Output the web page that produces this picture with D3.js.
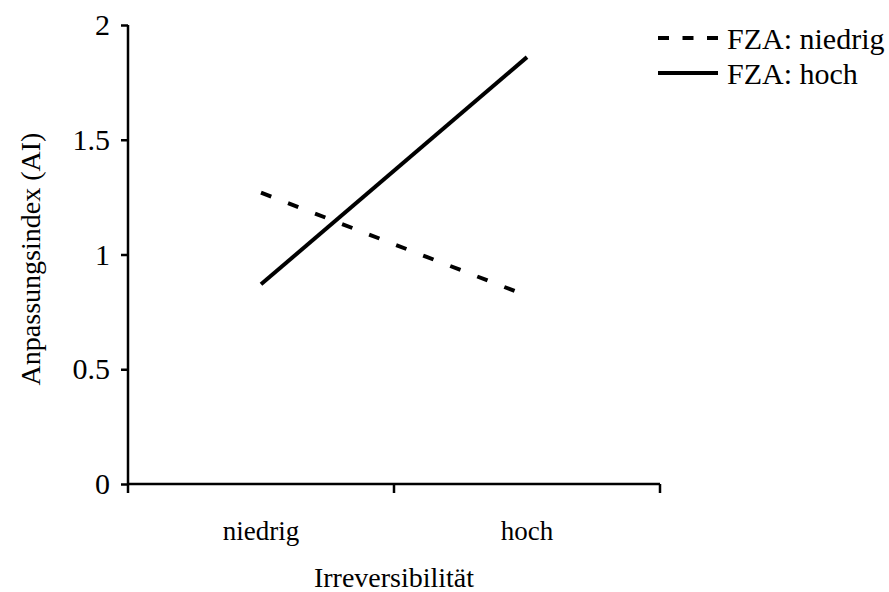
<!DOCTYPE html>
<html>
<head>
<meta charset="utf-8">
<script src="https://cdn.jsdelivr.net/npm/d3@7"></script>
<style>
  body { margin: 0; background: #fff; }
  text { font-family: "Liberation Serif", "DejaVu Serif", serif; fill: #000; }
</style>
</head>
<body>
<svg id="chart" width="889" height="592"></svg>
<script>
const categories = ["niedrig", "hoch"];
const seriesNames = ["FZA: niedrig", "FZA: hoch"];
const fzaNiedrig = [1.27, 0.82];
const fzaHoch = [0.87, 1.86];
const yTicks = [0, 0.5, 1, 1.5, 2];

const series = [
    { name: seriesNames[0], values: fzaNiedrig, dash: "11,18" },
    { name: seriesNames[1], values: fzaHoch, dash: null }
];

const margin = { top: 25, left: 128, right: 229, bottom: 108 };
const width = 889, height = 592;
const serif = '"Liberation Serif", "Times New Roman", serif';

const svg = d3.select("#chart");

const xScale = d3.scaleBand()
    .domain(categories)
    .range([margin.left, width - margin.right]);

const yScale = d3.scaleLinear()
    .domain([0, 2])
    .range([height - margin.bottom, margin.top]);

// y axis
const yAxis = d3.axisLeft(yScale)
    .tickValues(yTicks)
    .tickFormat(d3.format("~g"))
    .tickSize(7)
    .tickPadding(11);
const gy = svg.append("g")
    .attr("transform", `translate(${margin.left},0)`)
    .call(yAxis)
    .attr("font-family", serif)
    .attr("font-size", 30);
gy.select(".domain").attr("d", `M0,${yScale(2)}V${yScale(0)}`);
gy.selectAll(".domain, .tick line").attr("stroke", "#000").attr("stroke-width", 2.5);
gy.selectAll(".tick text")
    .style("font-family", serif)
    .style("font-size", "30px")
    .attr("fill", "#000");

// x axis, ticks on band edges
const xEdges = [margin.left, margin.left + xScale.bandwidth(), width - margin.right];
const gx = svg.append("g")
    .attr("transform", `translate(0,${yScale(0)})`);
gx.append("path")
    .attr("d", `M${xEdges[0]},0H${xEdges[2]}`)
    .attr("stroke", "#000")
    .attr("stroke-width", 2.5);
gx.selectAll(".edge")
    .data(xEdges)
    .join("line")
    .attr("class", "edge")
    .attr("x1", d => d).attr("x2", d => d)
    .attr("y1", 0).attr("y2", 9)
    .attr("stroke", "#000")
    .attr("stroke-width", 2.5);
gx.selectAll(".cat")
    .data(categories)
    .join("text")
    .attr("class", "cat")
    .attr("x", d => xScale(d) + xScale.bandwidth() / 2)
    .attr("y", 56)
    .attr("text-anchor", "middle")
    .style("font-family", serif)
    .style("font-size", "27px")
    .text(d => d);

// lines
const line = d3.line()
    .x((d, i) => xScale(categories[i]) + xScale.bandwidth() / 2)
    .y(d => yScale(d));

svg.selectAll(".series")
    .data(series)
    .join("path")
    .attr("class", "series")
    .attr("d", d => line(d.values))
    .attr("fill", "none")
    .attr("stroke", "#000")
    .attr("stroke-width", 4)
    .attr("stroke-dasharray", d => d.dash);

// axis titles
svg.append("text")
    .attr("x", xScale.range()[0] + (xScale.range()[1] - xScale.range()[0]) / 2)
    .attr("y", 587)
    .attr("text-anchor", "middle")
    .style("font-family", serif)
    .style("font-size", "28px")
    .text("Irreversibilität");

svg.append("text")
    .attr("transform", `translate(40,259) rotate(-90)`)
    .attr("text-anchor", "middle")
    .style("font-family", serif)
    .style("font-size", "28px")
    .text("Anpassungsindex (AI)");

// legend
const legend = svg.selectAll(".legend")
    .data(series)
    .join("g")
    .attr("class", "legend")
    .attr("transform", (d, i) => `translate(658,${38 + i * 35})`);
legend.append("line")
    .attr("x1", 0).attr("x2", 60)
    .attr("stroke", "#000")
    .attr("stroke-width", 4)
    .attr("stroke-dasharray", d => d.dash ? "11,13.5" : null);
legend.append("text")
    .attr("x", 69)
    .attr("dy", "0.35em")
    .style("font-family", serif)
    .style("font-size", "30px")
    .text(d => d.name);
</script>
</body>
</html>
